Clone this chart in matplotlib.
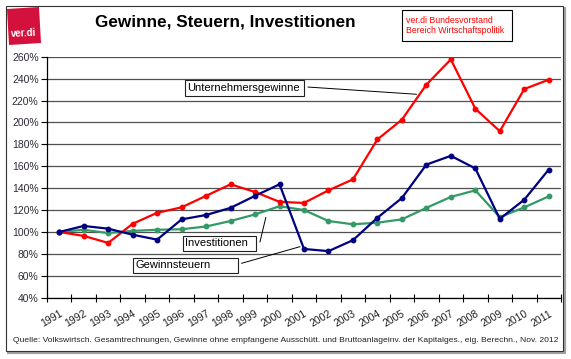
import matplotlib
matplotlib.use("Agg")
import matplotlib.pyplot as plt
from matplotlib.patches import Rectangle, Polygon
import numpy as np

plt.rcParams['font.family'] = ['Liberation Sans', 'DejaVu Sans']

years = [str(y) for y in range(1991, 2012)]
gewinne = [100, 96.4, 90, 107.5, 117.5, 122.5, 133, 143.5, 136.5, 127.5, 126.5,
           138, 148, 184.5, 202.5, 234.5, 257.5, 212.5, 192, 230.5, 239]
steuern = [100, 105.5, 103, 97.5, 93, 111.5, 115.5, 122, 133, 143.5, 84.5,
           82.5, 92.5, 113, 131, 161.5, 169.5, 158, 112, 129.5, 157]
invest = [100, 102, 99, 101, 102, 102.5, 105, 110, 116, 123.5, 120,
          110, 107, 108.5, 111.5, 122, 132, 138, 113.5, 122.5, 132.5]
yticks = list(range(40, 261, 20))

W, H = 571, 359
fig = plt.figure(figsize=(W/100, H/100), dpi=100)

def fx(px):
    return px / W

def fy(py):
    return 1 - py / H

def frect(x0, y0, x1, y1, **kw):
    r = Rectangle((fx(x0), fy(y1)), fx(x1) - fx(x0), fy(y0) - fy(y1),
                  transform=fig.transFigure, **kw)
    fig.add_artist(r)
    return r

# outer frame with shadow
frect(7.5, 8, 564.5, 352.5, fill=False, ec='#a0a0a0', lw=1.5, zorder=0)
frect(5.5, 6, 562.5, 350.5, fc='white', ec='#333333', lw=0.8, zorder=1)

ax = fig.add_axes([fx(47), fy(297.7), fx(561) - fx(47), fy(56.7) - fy(297.7)])
ax.set_zorder(3)
x = np.arange(len(years))
ax.plot(x, gewinne, color='#ff0000', lw=1.6, marker='o', ms=3.2, zorder=4)
ax.plot(x, steuern, color='#000080', lw=1.6, marker='o', ms=3.2, zorder=5)
ax.plot(x, invest, color='#339966', lw=1.6, marker='o', ms=3.2, zorder=3)

ax.set_xlim(-0.5, len(years) - 0.5)
ax.set_ylim(40, 260)
ax.set_yticks(yticks)
ax.set_yticklabels([f"{v}%" for v in yticks], fontsize=7.5, color='#302838')
ax.yaxis.grid(True, color='#505050', lw=0.9)
ax.set_axisbelow(True)
ax.set_xticks(np.arange(len(years) + 1) - 0.5)
ax.set_xticklabels([])
ax.set_xticks(x, minor=True)
ax.set_xticklabels(years, minor=True, rotation=30, ha='right', rotation_mode='anchor',
                   fontsize=7.5, color='#202020')
ax.tick_params(axis='x', which='major', direction='inout', length=6, width=0.8)
ax.tick_params(axis='x', which='minor', length=0, pad=8)
ax.tick_params(axis='y', direction='out', length=4, width=0.8, pad=2)
for s in ['top', 'right']:
    ax.spines[s].set_visible(False)
for s in ['left', 'bottom']:
    ax.spines[s].set_color('black')
    ax.spines[s].set_linewidth(0.9)
ax.patch.set_alpha(0)

# annotation leader lines (data coords)
lead = dict(arrowstyle='-', color='black', lw=0.7, shrinkA=0, shrinkB=0)
ax.annotate('', xy=(14.6, 225.7), xytext=(10.16, 232.3), arrowprops=lead)
ax.annotate('', xy=(8.44, 113.3), xytext=(8.20, 90.8), arrowprops=lead)
ax.annotate('', xy=(9.84, 86.6), xytext=(7.45, 71.4), arrowprops=lead)

# annotation boxes and labels
frect(184.5, 80.5, 303.5, 95.5, fc='white', ec='#202020', lw=0.8, zorder=8)
fig.text(fx(187), fy(88.3), 'Unternehmersgewinne', fontsize=8, ha='left', va='center', zorder=9)
frect(182.5, 235.5, 256, 250.5, fc='white', ec='#202020', lw=0.8, zorder=8)
fig.text(fx(185), fy(243.3), 'Investitionen', fontsize=8, ha='left', va='center', zorder=9)
frect(132.5, 257.5, 237.5, 273, fc='white', ec='#202020', lw=0.8, zorder=8)
fig.text(fx(135), fy(265.5), 'Gewinnsteuern', fontsize=8, ha='left', va='center', zorder=9)

# title
fig.text(fx(225), fy(22), 'Gewinne, Steuern, Investitionen', fontsize=12.3,
         fontweight='bold', ha='center', va='center', zorder=5)

# top right box
frect(402, 10, 512, 41, fc='white', ec='black', lw=0.8, zorder=5)
fig.text(fx(406), fy(25.5), 'ver.di Bundesvorstand\nBereich Wirtschaftspolitik',
         fontsize=6.3, color='#ff0000', ha='left', va='center', linespacing=1.25, zorder=6)

# logo
logo = Polygon([(fx(7), fy(9)), (fx(39), fy(7)), (fx(41), fy(43)), (fx(9), fy(45))],
               closed=True, transform=fig.transFigure, fc='#d4103c', ec='none', zorder=6)
fig.add_artist(logo)
fig.text(fx(24), fy(33), 'ver.di', fontsize=7, fontweight='bold', color='white',
         ha='center', va='center', rotation=3, zorder=7)

# footer
fig.text(fx(285.5), fy(340),
         'Quelle: Volkswirtsch. Gesamtrechnungen, Gewinne ohne empfangene Aussch\u00fctt. und Bruttoanlageinv. der Kapitalges., eig. Berechn., Nov. 2012',
         fontsize=6.1, color='#202020', ha='center', va='center', zorder=5)

fig.savefig('out.png', dpi=100)
